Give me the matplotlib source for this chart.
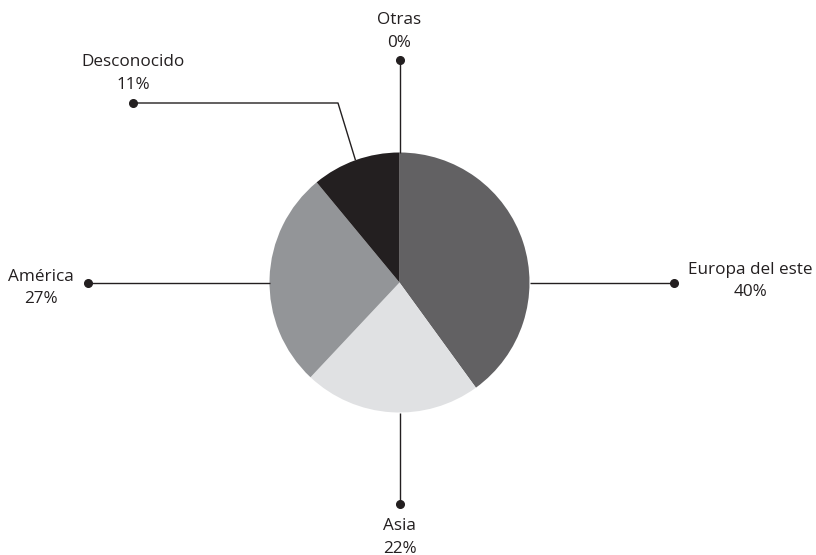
import numpy as np
import matplotlib
matplotlib.use("Agg")
import matplotlib.pyplot as plt

# ===== Data =====
labels = ["Europa del este", "Asia", "América", "Desconocido", "Otras"]
values = [40, 22, 27, 11, 0]
colors = ["#626163", "#e0e1e3", "#939598", "#231f20", "#231f20"]

# ===== Figure in pixel-like coordinates =====
W, H = 816, 555
fig = plt.figure(figsize=(W / 100, H / 100), dpi=100)
ax = fig.add_axes([0, 0, 1, 1])

cx, cy, r = 399.5, H - 282.5, 130
wedges, _ = ax.pie(values, colors=colors, startangle=90, counterclock=False,
                   center=(cx, cy), radius=r, frame=True,
                   wedgeprops=dict(linewidth=0))
ax.set_xlim(0, W)
ax.set_ylim(0, H)
ax.set_aspect("equal")
ax.axis("off")

line_kw = dict(color="#231f20", lw=1.0, solid_capstyle="butt", zorder=1)
dot_kw = dict(marker="o", ms=5.5, color="#231f20", zorder=3)
txt_kw = dict(fontsize=12.3, color="#231f20", family=["Open Sans", "DejaVu Sans"],
              linespacing=1.55)

# leader layout: (dot x, dot y, elbow or None, text x, text y, ha, va)
layout = {
    "Europa del este": (674, H - 282.5, None, 750, H - 281, "center", "center"),
    "Asia": (399.5, H - 504, None, 399.5, H - 518, "center", "top"),
    "América": (88, H - 282.5, None, 41, H - 288, "center", "center"),
    "Desconocido": (133, H - 103, (338, H - 103), 133, H - 93, "center", "bottom"),
    "Otras": (399.5, H - 60, None, 399.5, H - 51, "center", "bottom"),
}

for w, lab, val in zip(wedges, labels, values):
    dx, dy, elbow, tx, ty, ha, va = layout[lab]
    if elbow is None:
        # straight leader: leave the rim heading towards the dot
        ang = np.arctan2(dy - cy, dx - cx)
    else:
        # elbow leader: leave the rim at the wedge's mid angle
        ang = np.deg2rad((w.theta1 + w.theta2) / 2)
    ex, ey = cx + r * np.cos(ang), cy + r * np.sin(ang)
    if elbow is None:
        xs, ys = [ex, dx], [ey, dy]
    else:
        xs, ys = [ex, elbow[0], dx], [ey, elbow[1], dy]
    ax.plot(xs, ys, **line_kw)
    ax.plot([dx], [dy], **dot_kw)
    ax.text(tx, ty, f"{lab}\n{val}%", ha=ha, va=va, multialignment="center", **txt_kw)

fig.savefig("out.png", dpi=100, facecolor="white")
